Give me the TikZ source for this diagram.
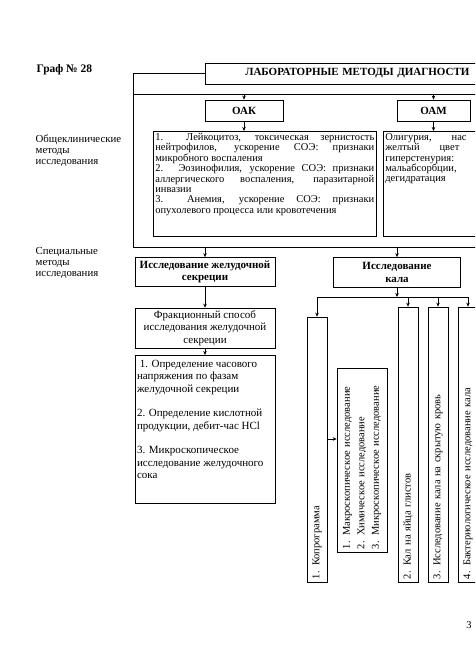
\documentclass[tikz,border=0pt]{standalone}
\usepackage{fontspec}
\setmainfont{Liberation Serif}
\usetikzlibrary{arrows.meta}
\hbadness=10000

\tikzset{
  box/.style={draw, inner sep=1pt, align=center},
  arr/.style={-{Stealth[length=4pt,width=3.5pt]}},
  vbox/.style={draw, rotate=90, inner sep=2pt, align=left},
  bold/.style={font=\fontsize{11}{12.5}\selectfont\bfseries},
  txt/.style={font=\fontsize{10.5}{10.4}\selectfont},
}

\begin{document}
\begin{tikzpicture}[x=1pt,y=-1pt,line width=0.7pt]
  \useasboundingbox (0,0) rectangle (475,671);
  \clip (0,0) rectangle (475,671);
  % left-hand labels
  \node[anchor=west,font=\fontsize{11.5}{13}\selectfont\bfseries] (graf) at (33,70) {Граф № 28};
  \node[anchor=north west,align=left,font=\fontsize{10.8}{11}\selectfont] (gen) at (32,131) {Общеклинические\\методы\\исследования};
  \node[anchor=north west,align=left,font=\fontsize{10.8}{11}\selectfont] (spec) at (32,244) {Специальные\\методы\\исследования};
  % title and frame
  \node[box,bold,anchor=west,minimum width=320,minimum height=21,text width=316,align=left] (title) at (205,73.5) {\hspace{38pt}ЛАБОРАТОРНЫЕ МЕТОДЫ ДИАГНОСТИ};
  \coordinate (ftl) at (133,94);
  \coordinate (ftr) at (520,94);
  \coordinate (fbl) at (133,247);
  \coordinate (fbr) at (520,247);
  \draw (title.west) -| (fbl) -- (fbr);
  \draw (ftl) -- (ftr);
  % OAK and OAM
  \node[box,bold,minimum width=78,minimum height=21] (oak) at (244,110.5) {ОАК};
  \node[box,bold,minimum width=73,minimum height=21] (oam) at (433.5,110.5) {ОАМ};
  \node[draw,txt,anchor=north west,inner sep=2pt] (oaktxt) at (153,131) {\parbox[t][101pt][t]{219pt}{%
    1.\ \ Лейкоцитоз, токсическая зернистость\linebreak нейтрофилов, ускорение СОЭ: признаки\linebreak микробного воспаления\par
    2. Эозинофилия, ускорение СОЭ: признаки\linebreak аллергического воспаления, паразитарной\linebreak инвазии\par
    3.\ \ Анемия, ускорение СОЭ: признаки\linebreak опухолевого процесса или кровотечения}};
  \node[draw,txt,anchor=north west,inner sep=2pt] (oamtxt) at (383,131) {\parbox[t][101pt][t]{130pt}{%
    Олигурия,\hspace{20pt}нас\\желтый\hspace{20pt}цвет\\гиперстенурия:\\мальабсорбции,\\дегидратация}};
  \draw[arr] (oak.north |- ftl) -- (oak.north);
  \draw[arr] (oam.north |- ftl) -- (oam.north);
  \draw[arr] (oak.south) -- (oak.south |- oaktxt.north);
  \draw[arr] (oam.south) -- (oam.south |- oamtxt.north);
  % gastric secretion
  \node[box,bold,minimum width=140,minimum height=29] (gastr) at (205,272) {Исследование желудочной\\секреции};
  \node[box,font=\fontsize{11}{12.5}\selectfont,minimum width=140,minimum height=40] (fract) at (205,328) {Фракционный способ\\исследования желудочной\\секреции};
  \node[draw,anchor=north,inner sep=2pt,font=\fontsize{11}{12.3}\selectfont] (steps) at (205,355) {\parbox[t][144pt][t]{136pt}{%
    \vspace{3pt}\ 1. Определение часового\\напряжения по фазам\\желудочной секреции\\[12.3pt]
    2. Определение кислотной\\продукции, дебит-час HCl\\[12.3pt]
    3. Микроскопическое\\исследование желудочного\\сока}};
  \draw[arr] (fbl -| gastr.north) -- (gastr.north);
  \draw[arr] (gastr.south) -- (fract.north);
  \draw[arr] (fract.south) -- (steps.north);
  % stool examination
  \node[box,bold,minimum width=127,minimum height=30] (kal) at (397,272.5) {Исследование\\кала};
  \draw[arr] (fbl -| kal.north) -- (kal.north);
  \coordinate (brk) at (397,297);
  \draw[arr] (kal.south) -- (brk);
  \node[vbox,txt,minimum width=265,minimum height=20,text width=259] (kopr) at (317,449.5) {1. Копрограмма};
  \node[vbox,font=\fontsize{10.5}{14.5}\selectfont,minimum width=184,minimum height=50,text width=178] (micro) at (362,460) {1. Макроскопическое исследование\\2. Химическое исследование\\3. Микроскопическое исследование};
  \node[vbox,txt,minimum width=275,minimum height=20,text width=269] (helm) at (408,444.5) {2. Кал на яйца глистов};
  \node[vbox,txt,minimum width=275,minimum height=20,text width=269] (blood) at (438,444.5) {3. Исследование кала на скрытую кровь};
  \node[vbox,txt,minimum width=275,minimum height=20,text width=269] (bact) at (468,444.5) {4. Бактериологическое исследование кала};
  \draw (kopr.east |- brk) -- (bact.east |- brk);
  \draw[arr] (kopr.east |- brk) -- (kopr.east);
  \draw[arr] (helm.east |- brk) -- (helm.east);
  \draw[arr] (blood.east |- brk) -- (blood.east);
  \draw[arr] (bact.east |- brk) -- (bact.east);
  \coordinate (mk) at ([yshift=21pt]micro.north);
  \draw[arr] (kopr.south |- mk) -- (mk);
  % page number
  \node[txt] (pg) at (469,625) {3};
\end{tikzpicture}
\end{document}
